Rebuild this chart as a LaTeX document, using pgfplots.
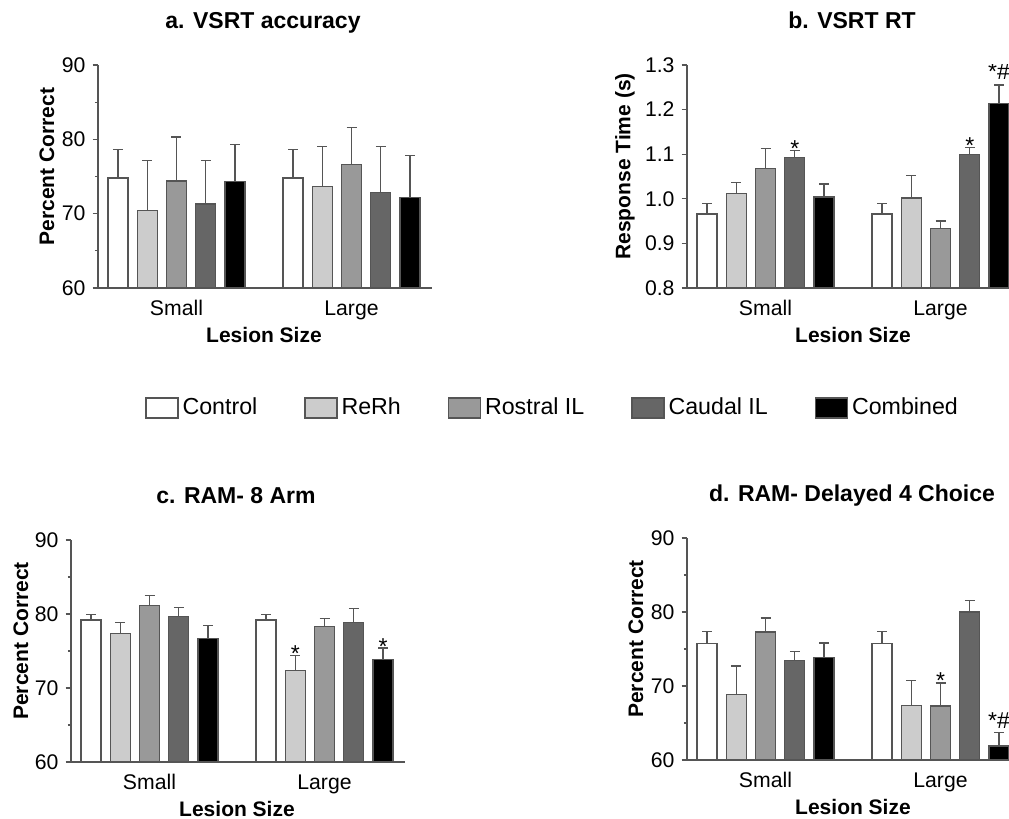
\documentclass[border=0pt]{standalone}
\usepackage{fontspec}
\setmainfont{Liberation Sans}
\usepackage{pgfplots}
\pgfplotsset{compat=1.18}
\usepackage{pgfplotstable}

\definecolor{cA}{HTML}{FFFFFF}
\definecolor{cB}{HTML}{CCCCCC}
\definecolor{cC}{HTML}{999999}
\definecolor{cD}{HTML}{666666}
\definecolor{cE}{HTML}{000000}
\definecolor{edge}{HTML}{555555}

% x: bar centre (px units along axis), y: mean, e: upper error
\pgfplotstableread{
x y e
20 74.8 3.8
195 74.8 3.8
}\aA
\pgfplotstableread{
x y e
49.25 70.4 6.8
224.25 73.7 5.3
}\aB
\pgfplotstableread{
x y e
78.5 74.4 5.9
253.5 76.6 5.0
}\aC
\pgfplotstableread{
x y e
107.75 71.3 5.9
282.75 72.9 6.1
}\aD
\pgfplotstableread{
x y e
137 74.3 5.0
312 72.2 5.6
}\aE

\pgfplotstableread{
x y e
20 0.966 0.024
195 0.966 0.024
}\bA
\pgfplotstableread{
x y e
49.25 1.011 0.026
224.25 1.002 0.050
}\bB
\pgfplotstableread{
x y e
78.5 1.068 0.045
253.5 0.934 0.016
}\bC
\pgfplotstableread{
x y e
107.75 1.092 0.016
282.75 1.099 0.016
}\bD
\pgfplotstableread{
x y e
137 1.004 0.029
312 1.214 0.041
}\bE

\pgfplotstableread{
x y e
20 79.2 0.7
195 79.2 0.7
}\cA
\pgfplotstableread{
x y e
49.25 77.4 1.4
224.25 72.4 2.0
}\cB
\pgfplotstableread{
x y e
78.5 81.2 1.3
253.5 78.3 1.1
}\cC
\pgfplotstableread{
x y e
107.75 79.7 1.2
282.75 78.8 1.9
}\cD
\pgfplotstableread{
x y e
137 76.7 1.7
312 73.8 1.6
}\cE

\pgfplotstableread{
x y e
20 75.7 1.7
195 75.7 1.7
}\dA
\pgfplotstableread{
x y e
49.25 68.9 3.8
224.25 67.4 3.3
}\dB
\pgfplotstableread{
x y e
78.5 77.3 1.9
253.5 67.3 3.1
}\dC
\pgfplotstableread{
x y e
107.75 73.4 1.3
282.75 80.0 1.5
}\dD
\pgfplotstableread{
x y e
137 73.9 1.9
312 61.9 1.8
}\dE

\pgfplotsset{
  panel/.style={
    scale only axis, width=167pt, height=111.5pt, xmin=0, xmax=334,
    axis x line*=bottom, axis y line*=left,
    axis line style={edge, line width=0.6pt, -},
    xtick={78.5,253.5}, xticklabels={Small,Large},
    x tick style={draw=none},
    tick align=outside, major tick length=2.7pt, minor tick length=1.6pt,
    y tick style={edge, line width=0.6pt},
    ticklabel style={font=\fontsize{10.6}{12}\selectfont},
    /pgf/number format/assume math mode=true,
    xlabel={Lesion Size},
    xlabel style={font=\bfseries\fontsize{10.5}{12}\selectfont, at={(axis description cs:0,0)}, xshift=83pt, yshift=-23.5pt, anchor=center},
    every axis title shift=0pt,
    title style={font=\bfseries\fontsize{11.5}{13}\selectfont, at={(axis description cs:0,1)}, xshift=82.5pt, yshift=18.3pt, anchor=base},
  },
  pct/.style={ymin=60, ymax=90, ytick={60,70,80,90}, minor ytick={65,75,85}, ylabel={Percent Correct}},
  mybar/.style={ybar, bar width=20, bar shift=0pt, draw=edge, line width=0.6pt, fill=#1,
    legend image code/.code={\draw[draw=edge, line width=0.6pt, fill=#1] (0pt,-5pt) rectangle (16pt,5pt);},
    error bars/.cd, y dir=plus, y explicit,
    error bar style={edge, line width=0.6pt},
    error mark options={edge, line width=0.6pt, mark size=2.5pt, rotate=90}},
  ylab/.style={ylabel style={font=\bfseries\fontsize{10.5}{12}\selectfont, at={(axis description cs:#1,0.545)}, anchor=center}},
}
\newcommand{\bars}[5]{%
  \addplot[mybar=cA] table[x=x,y=y,y error=e] {#1};
  \addplot[mybar=cB] table[x=x,y=y,y error=e] {#2};
  \addplot[mybar=cC] table[x=x,y=y,y error=e] {#3};
  \addplot[mybar=cD] table[x=x,y=y,y error=e] {#4};
  \addplot[mybar=cE] table[x=x,y=y,y error=e] {#5};
}
\newcommand{\st}{\fontsize{11.5}{12}\selectfont}

\begin{document}
\begin{tikzpicture}
\path[use as bounding box] (0,0) rectangle (504.5pt,409.5pt);

% a
\begin{axis}[panel, pct, ylab=-0.1527, at={(49pt,265.5pt)}, anchor=south west,
  title={a. VSRT accuracy},
  legend columns=5,
  legend style={draw=none, fill=none, inner sep=0pt, at={(0.1407,-0.538)}, anchor=west,
    font=\fontsize{11.6}{13}\selectfont,
    /tikz/every even column/.append style={column sep=21.5pt}},
  legend entries={Control,ReRh,Rostral IL,Caudal IL,Combined}]
\bars{\aA}{\aB}{\aC}{\aD}{\aE}
\end{axis}

% b
\begin{axis}[panel, width=161pt, xmax=322, ylab=-0.1925, at={(343.5pt,265.5pt)}, anchor=south west,
  title={b. VSRT RT}, ylabel={Response Time (s)},
  ymin=0.8, ymax=1.3, ytick={0.8,0.9,1.0,1.1,1.2,1.3},
  yticklabel style={/pgf/number format/.cd, fixed, fixed zerofill, precision=1}]
\bars{\bA}{\bB}{\bC}{\bD}{\bE}
\node[anchor=base, inner sep=0pt, yshift=-2.8pt, font=\st] at (axis cs:107.75,1.108) {*};
\node[anchor=base, inner sep=0pt, yshift=-2.8pt, font=\st] at (axis cs:282.75,1.115) {*};
\node[anchor=base, inner sep=0pt, yshift=2.6pt, font=\st] at (axis cs:312,1.255) {*\#};
\end{axis}

% c
\begin{axis}[panel, pct, height=111pt, ylab=-0.1497, at={(35.5pt,28.5pt)}, anchor=south west,
  title={c. RAM- 8 Arm}]
\bars{\cA}{\cB}{\cC}{\cD}{\cE}
\node[anchor=base, inner sep=0pt, yshift=-2.8pt, font=\st] at (axis cs:224.25,74.4) {*};
\node[anchor=base, inner sep=0pt, yshift=-3.2pt, font=\st] at (axis cs:312,75.4) {*};
\end{axis}

% d
\begin{axis}[panel, pct, width=161pt, xmax=322, height=111pt, ylab=-0.1584, at={(343.5pt,29.5pt)}, anchor=south west,
  title={d. RAM- Delayed 4 Choice}]
\bars{\dA}{\dB}{\dC}{\dD}{\dE}
\node[anchor=base, inner sep=0pt, yshift=-2.8pt, font=\st] at (axis cs:253.5,70.4) {*};
\node[anchor=base, inner sep=0pt, yshift=2.0pt, font=\st] at (axis cs:312,63.7) {*\#};
\end{axis}
\end{tikzpicture}
\end{document}
